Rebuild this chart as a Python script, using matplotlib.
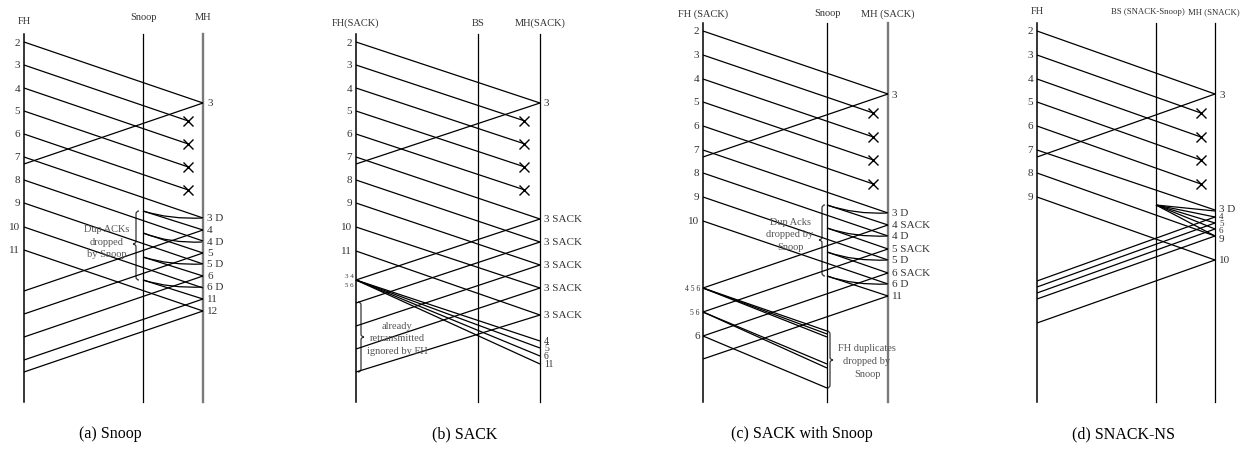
import matplotlib.pyplot as plt
from matplotlib.path import Path
from matplotlib.patches import PathPatch

plt.rcParams['font.family'] = ['Liberation Serif', 'DejaVu Serif']

# ---------------- (a) Snoop ----------------
a_x = [24, 143, 203]                      # FH, Snoop, MH
a_head = ['FH', 'Snoop', 'MH']
a_head_y = [21, 18, 18]
a_seg = ['2', '3', '4', '5', '6', '7', '8', '9', '10', '11']
a_send = [43, 66, 89, 112, 135, 158, 181, 204, 228, 251]
a_recv = [104, None, None, None, None, 219, 242, 265, 289, 312]
a_mh_lab = ['3', '3 D', '4', '4 D', '5', '5 D', '6', '6 D', '11', '12']
a_mh_y = [104, 219, 231, 243, 254, 265, 277, 288, 300, 312]
a_ack = [(104, 165), (231, 292), (254, 315), (277, 338), (300, 361), (312, 373)]
a_local = [(212, 231), (234, 254), (258, 277), (281, 300)]
a_dup = [(212, 219), (234, 243), (258, 265), (281, 288)]

# ---------------- (b) SACK ----------------
b_x = [356, 478, 540]
b_head = ['FH(SACK)', 'BS', 'MH(SACK)']
b_head_y = [23, 23, 23]
b_seg = ['2', '3', '4', '5', '6', '7', '8', '9', '10', '11']
b_send = [43, 66, 89, 112, 135, 158, 181, 204, 228, 252]
b_recv = [104, None, None, None, None, 220, 243, 266, 289, 316]
b_mh_lab = ['3', '3 SACK', '3 SACK', '3 SACK', '3 SACK', '3 SACK']
b_mh_y = [104, 220, 243, 266, 289, 316]
b_small_lab = ['4', '5', '6', '11']
b_small_y = [342, 349, 357, 365]
b_ack = [(104, 165), (220, 281), (243, 304), (266, 327), (289, 350), (316, 373)]
b_retx_t = 281

# ---------------- (c) SACK with Snoop ----------------
c_x = [703, 827, 888]
c_head = ['FH (SACK)', 'Snoop', 'MH (SACK)']
c_head_y = [14, 13, 14]
c_seg = ['2', '3', '4', '5', '6', '7', '8', '9', '10']
c_send = [32, 56, 80, 103, 127, 151, 174, 198, 222]
c_recv = [95, None, None, None, None, 214, 237, 261, 285]
c_mh_lab = ['3', '3 D', '4 SACK', '4 D', '5 SACK', '5 D', '6 SACK', '6 D', '11']
c_mh_y = [95, 214, 226, 237, 250, 261, 274, 285, 297]
c_ack = [(95, 158), (226, 289), (250, 313), (274, 337), (297, 360)]
c_local = [(206, 226), (229, 250), (253, 274), (277, 297)]
c_dup = [(206, 214), (229, 237), (253, 261), (277, 285)]
c_retx = [(289, [332, 335, 338]), (313, [365, 369]), (337, [389])]
c_retx_lab = ['4 5 6', '5 6', '6']

# ---------------- (d) SNACK-NS ----------------
d_x = [1037, 1156, 1215]
d_head = ['FH', 'BS (SNACK-Snoop)', 'MH (SNACK)']
d_head_y = [12, 12, 12]
d_seg = ['2', '3', '4', '5', '6', '7', '8', '9']
d_send = [32, 56, 80, 103, 127, 151, 174, 198]
d_recv = [95, None, None, None, None, 211, 237, 261]
d_mh_lab = ['3', '3 D', '9', '10']
d_mh_y = [95, 210, 240, 261]
d_small_lab = ['4', '5', '6']
d_small_y = [217, 224, 231]
d_ack = [(95, 158), (218, 282), (224, 288), (230, 294), (237, 300), (261, 324)]
d_snack = (206, [212, 218, 224, 230, 237])

captions = ['(a) Snoop', '(b) SACK', '(c) SACK with Snoop', '(d) SNACK-NS']
caption_x = [110, 465, 802, 1123]

TXT = '#333333'
NOTE = '#555555'
LW = 0.9

fig = plt.figure(figsize=(12.41, 4.56), dpi=100)
ax = fig.add_axes([0, 0, 1, 1])
ax.set_xlim(0, 1241)
ax.set_ylim(456, 0)
ax.axis('off')


def line(x0, y0, x1, y1):
    ax.plot([x0, x1], [y0, y1], color='k', lw=LW, solid_capstyle='butt')


def curve(x0, y0, x1, y1):
    verts = [(x0, y0), (x0 + 0.45 * (x1 - x0), y1 + 1.5), (x1, y1)]
    p = Path(verts, [Path.MOVETO, Path.CURVE3, Path.CURVE3])
    ax.add_patch(PathPatch(p, fc='none', ec='k', lw=LW))


def brace(x, y0, y1, ym, tip, w=3):
    v = [(x - tip * w, y0), (x, y0), (x, y0 + w),
         (x, ym - w), (x, ym), (x + tip * w, ym),
         (x, ym), (x, ym + w),
         (x, y1 - w), (x, y1), (x - tip * w, y1)]
    c = [Path.MOVETO, Path.CURVE3, Path.CURVE3,
         Path.LINETO, Path.CURVE3, Path.CURVE3,
         Path.CURVE3, Path.CURVE3,
         Path.LINETO, Path.CURVE3, Path.CURVE3]
    ax.add_patch(PathPatch(Path(v, c), fc='none', ec='#333333', lw=0.9))


def frame(xs, heads, head_y, top, mh_gray, head_kw=None):
    for i, (x, h, hy) in enumerate(zip(xs, heads, head_y)):
        if i == 2 and mh_gray:
            ax.plot([x, x], [top, 403], color='#7a7a7a', lw=1.7)
        else:
            ax.plot([x, x], [top, 403], color='k', lw=1.1 if i == 0 else 0.9)
        kw = dict(ha='center', fontsize=7.5)
        if head_kw is not None:
            kw.update(head_kw[i])
        ax.text(kw.pop('x', x), hy, h, va='center', color=TXT, **kw)


def segments(xs, seg, send, recv, drop_x):
    fh, mid, mh = xs
    transit = recv[0] - send[0]
    for s, t0, t1 in zip(seg, send, recv):
        ax.text(fh - 4, t0, s, ha='right', va='center', fontsize=8, color=TXT)
        if t1 is None:
            yd = t0 + transit * (drop_x - fh) / (mh - fh)
            line(fh, t0, drop_x, yd)
            ax.plot(drop_x, yd, marker='x', ms=7, mew=1.0, color='k')
        else:
            line(fh, t0, mh, t1)


def mh_labels(xs, labs, ys, size=8):
    for l, y in zip(labs, ys):
        ax.text(xs[2] + 4, y, l, ha='left', va='center', fontsize=size, color=TXT)


def acks(xs, pairs):
    for t0, t1 in pairs:
        line(xs[2], t0, xs[0], t1)


# ----- panel (a)
frame(a_x, a_head, a_head_y, 35, True)
segments(a_x, a_seg, a_send, a_recv, 188)
mh_labels(a_x, a_mh_lab, a_mh_y)
acks(a_x, a_ack)
for t0, t1 in a_local:
    line(a_x[1], t0, a_x[2], t1)
for t0, t1 in a_dup:
    curve(a_x[1], t0, a_x[2], t1)
brace(136, 212, 281, 245, -1)
for y, s in zip([230, 243, 255], ['Dup ACKs', 'dropped', 'by Snoop']):
    ax.text(107, y, s, ha='center', va='center', fontsize=7.5, color=NOTE)

# ----- panel (b)
frame(b_x, b_head, b_head_y, 35, False)
segments(b_x, b_seg, b_send, b_recv, 524)
mh_labels(b_x, b_mh_lab, b_mh_y)
mh_labels(b_x, b_small_lab, b_small_y, size=7)
acks(b_x, b_ack)
for y in b_small_y:
    line(b_x[0], b_retx_t, b_x[2], y)
ax.text(b_x[0] - 2, b_retx_t - 4, '3 4', ha='right', va='center', fontsize=5, color=TXT)
ax.text(b_x[0] - 2, b_retx_t + 5, '5 6', ha='right', va='center', fontsize=5, color=TXT)
brace(361, 303, 373, 338, 1)
for y, s in zip([327, 339, 352], ['already', 'retransmitted', 'ignored by FH']):
    ax.text(397, y, s, ha='center', va='center', fontsize=7.5, color=NOTE)

# ----- panel (c)
frame(c_x, c_head, c_head_y, 24, True)
segments(c_x, c_seg, c_send, c_recv, 873)
mh_labels(c_x, c_mh_lab, c_mh_y)
acks(c_x, c_ack)
for t0, t1 in c_local:
    line(c_x[1], t0, c_x[2], t1)
for t0, t1 in c_dup:
    curve(c_x[1], t0, c_x[2], t1)
for (t0, ends), lab in zip(c_retx, c_retx_lab):
    for y in ends:
        line(c_x[0], t0, c_x[1], y)
    ax.text(c_x[0] - 3, t0, lab, ha='right', va='center',
            fontsize=8 if len(lab) == 1 else 5.5, color=TXT)
brace(822, 206, 277, 241, -1)
for y, s in zip([223, 235, 248], ['Dup Acks', 'dropped by', 'Snoop']):
    ax.text(790, y, s, ha='center', va='center', fontsize=7.5, color=NOTE)
brace(830, 332, 389, 361, 1)
for y, s in zip([349, 362, 375], ['FH duplicates', 'dropped by', 'Snoop']):
    ax.text(867, y, s, ha='center', va='center', fontsize=7.5, color=NOTE)

# ----- panel (d)
d_head_kw = [dict(), dict(ha='right', x=1185, fontsize=6.3),
             dict(ha='right', x=1240, fontsize=6.3)]
frame(d_x, d_head, d_head_y, 24, False, d_head_kw)
segments(d_x, d_seg, d_send, d_recv, 1201)
mh_labels(d_x, d_mh_lab, d_mh_y)
mh_labels(d_x, d_small_lab, d_small_y, size=6.5)
acks(d_x, d_ack)
for y in d_snack[1]:
    line(d_x[1], d_snack[0], d_x[2], y)

for cx, cap in zip(caption_x, captions):
    ax.text(cx, 434, cap, ha='center', va='center', fontsize=11.5, color='k')

fig.savefig('out.png', dpi=100)
